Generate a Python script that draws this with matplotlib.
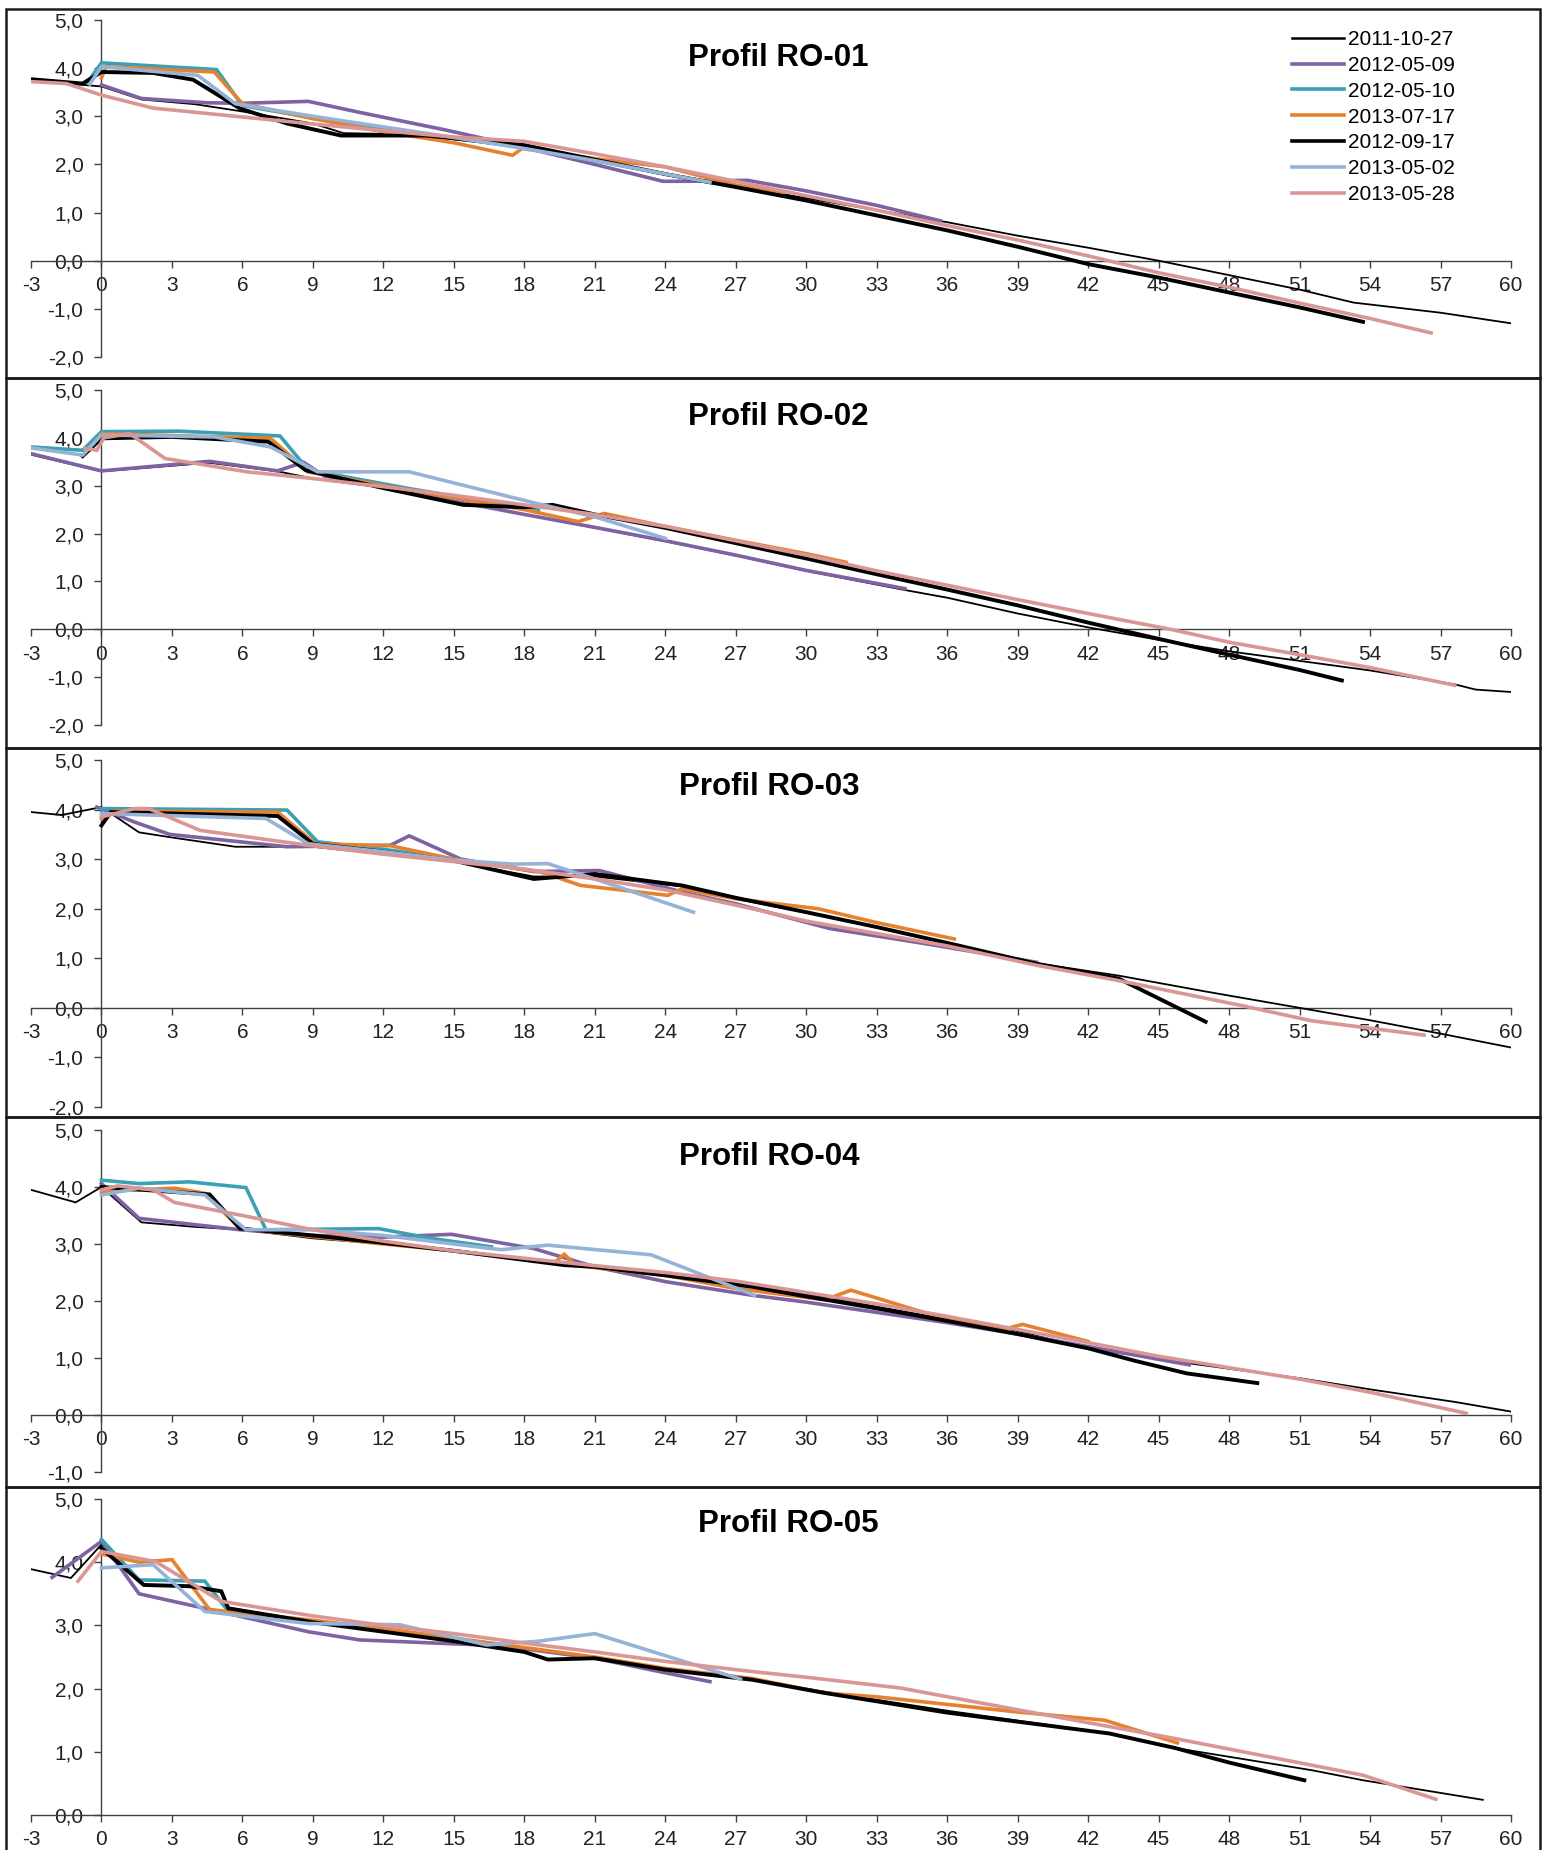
import matplotlib
matplotlib.use("Agg")
import matplotlib.pyplot as plt
from matplotlib.patches import Rectangle
from matplotlib.lines import Line2D

plt.rcParams['font.family'] = ['Liberation Sans', 'DejaVu Sans']

# =====================
# DATA  (distance [m] / height [m])
# =====================

series_labels = ["2011-10-27", "2012-05-09", "2012-05-10", "2013-07-17",
                 "2012-09-17", "2013-05-02", "2013-05-28"]
series_colors = ["#000000", "#7E62A1", "#3CA0B4", "#E5812F",
                 "#000000", "#95B3D7", "#D99694"]
series_widths = [1.3, 2.6, 2.6, 2.6, 2.8, 2.6, 2.6]

panel_titles = ["Profil RO-01", "Profil RO-02", "Profil RO-03", "Profil RO-04", "Profil RO-05"]
panel_ymin = [-2, -2, -2, -1, 0]

x_ticks = list(range(-3, 61, 3))

# ---- RO-01 ----
r1_111027_x = [-3, -1, 0, 1.7, 4, 6, 9, 10.3, 13.5, 15, 18, 21, 24, 27, 30, 33, 36, 39, 42, 45, 48, 51, 53.3, 57, 60]
r1_111027_y = [3.76, 3.66, 3.62, 3.35, 3.25, 3.1, 2.85, 2.65, 2.62, 2.52, 2.35, 2.08, 1.8, 1.55, 1.3, 1.05, 0.8, 0.52, 0.27, 0.0, -0.3, -0.6, -0.87, -1.08, -1.3]
r1_120509_x = [0, 1.7, 4.5, 6, 8.8, 11, 14.7, 18, 21, 23.9, 25, 27.5, 30, 33, 35.7]
r1_120509_y = [3.65, 3.37, 3.28, 3.27, 3.31, 3.08, 2.71, 2.35, 2.0, 1.65, 1.65, 1.67, 1.45, 1.15, 0.83]
r1_120510_x = [-0.6, 0, 4.9, 6.0, 9, 12, 15, 18, 21, 24, 26]
r1_120510_y = [3.7, 4.11, 3.97, 3.22, 2.97, 2.75, 2.55, 2.35, 2.08, 1.8, 1.62]
r1_130717_x = [0, 0.2, 4.8, 6.0, 9, 12, 15, 17.5, 17.9, 21, 24, 27, 29]
r1_130717_y = [3.8, 4.03, 3.92, 3.26, 2.95, 2.68, 2.45, 2.19, 2.33, 2.12, 1.95, 1.57, 1.42]
r1_120917_x = [-3, -0.8, 0, 2.2, 3.9, 5.9, 7.9, 10.2, 13.8, 18, 21, 24, 27, 30, 33, 36, 39, 42, 45, 48, 51, 53.7]
r1_120917_y = [3.77, 3.68, 3.92, 3.9, 3.76, 3.16, 2.85, 2.6, 2.6, 2.4, 2.1, 1.8, 1.53, 1.25, 0.94, 0.63, 0.29, -0.07, -0.35, -0.66, -0.97, -1.27]
r1_130502_x = [-0.5, 0, 4.1, 5.7, 9, 12, 15, 18, 21, 24, 25.9]
r1_130502_y = [3.67, 4.03, 3.85, 3.26, 3.0, 2.78, 2.56, 2.33, 2.08, 1.8, 1.63]
r1_130528_x = [-3, -1.5, 0, 2.2, 5.9, 8.8, 12, 15, 18, 21, 24, 27, 30, 33, 36, 39, 42, 45, 48, 51, 54, 56.6]
r1_130528_y = [3.72, 3.68, 3.44, 3.17, 2.99, 2.85, 2.7, 2.57, 2.48, 2.22, 1.95, 1.65, 1.35, 1.05, 0.73, 0.43, 0.1, -0.25, -0.55, -0.88, -1.2, -1.5]

# ---- RO-02 ----
r2_111027_x = [-3, 0, 4.6, 7.5, 9, 12, 15, 18, 21, 24, 27, 30, 34.2, 36, 39, 42, 45, 48, 51, 54, 57.6, 58.5, 60]
r2_111027_y = [3.65, 3.3, 3.48, 3.3, 3.15, 2.96, 2.67, 2.4, 2.12, 1.84, 1.54, 1.22, 0.82, 0.66, 0.33, 0.04, -0.22, -0.46, -0.66, -0.86, -1.15, -1.26, -1.31]
r2_120509_x = [-3, 0, 4.6, 7.5, 8.6, 9.5, 12, 15, 18, 21, 24, 27, 30, 34.2]
r2_120509_y = [3.67, 3.31, 3.51, 3.31, 3.49, 3.2, 2.98, 2.68, 2.4, 2.13, 1.85, 1.55, 1.23, 0.85]
r2_120510_x = [-3, -0.8, 0, 3.3, 7.6, 8.8, 13.1, 18.6]
r2_120510_y = [3.81, 3.74, 4.13, 4.14, 4.04, 3.33, 2.94, 2.49]
r2_130717_x = [-0.5, 0, 7.2, 8.8, 12, 15, 18, 20.3, 21.4, 24, 27, 30, 31.7]
r2_130717_y = [3.75, 4.09, 3.99, 3.29, 3.0, 2.75, 2.5, 2.25, 2.42, 2.15, 1.86, 1.58, 1.4]
r2_120917_x = [-0.8, 0, 3, 7.1, 8.7, 12, 15.4, 18, 19.2, 21, 24, 27, 30, 33, 36, 39, 42, 45, 48, 51, 52.8]
r2_120917_y = [3.62, 3.99, 4.02, 3.92, 3.32, 2.95, 2.6, 2.55, 2.6, 2.4, 2.12, 1.8, 1.48, 1.15, 0.83, 0.5, 0.14, -0.2, -0.53, -0.85, -1.07]
r2_130502_x = [-3, -0.8, 0, 4.8, 7.2, 9.2, 13.1, 18.6, 21, 24]
r2_130502_y = [3.79, 3.64, 4.06, 4.02, 3.81, 3.29, 3.29, 2.62, 2.35, 1.9]
r2_130528_x = [-0.7, -0.2, 0.1, 1.2, 2.7, 6.2, 9, 12, 15, 18, 21, 24, 27, 30, 33, 36, 39, 42, 45.5, 48, 51, 54, 57.6]
r2_130528_y = [3.78, 3.74, 4.0, 4.09, 3.57, 3.29, 3.15, 2.98, 2.8, 2.6, 2.4, 2.15, 1.85, 1.55, 1.22, 0.92, 0.62, 0.33, 0.0, -0.27, -0.53, -0.8, -1.17]

# ---- RO-03 ----
r3_111027_x = [-3, -1.7, 0, 1.6, 3.1, 5.7, 7.9, 9, 12, 15, 18.4, 21, 24.7, 27, 30, 33, 36, 39.8, 43.3, 47, 51, 54, 57, 60]
r3_111027_y = [3.95, 3.89, 4.05, 3.54, 3.43, 3.25, 3.25, 3.25, 3.1, 2.95, 2.65, 2.65, 2.45, 2.2, 1.92, 1.62, 1.3, 0.9, 0.65, 0.33, 0.0, -0.25, -0.52, -0.8]
r3_120509_x = [-0.2, 1.4, 2.9, 7.9, 12.3, 13.1, 15.3, 18.4, 21.2, 24.7, 27, 31, 35, 39.8]
r3_120509_y = [4.05, 3.75, 3.5, 3.25, 3.28, 3.47, 3.0, 2.75, 2.77, 2.34, 2.1, 1.6, 1.3, 0.92]
r3_120510_x = [0, 7.9, 9.2, 12.3, 15, 17.5]
r3_120510_y = [4.02, 3.99, 3.35, 3.18, 3.0, 2.85]
r3_130717_x = [0, 0.5, 7.5, 9.1, 12.3, 15, 18.7, 20.4, 24.1, 24.7, 27, 30.5, 33, 36.3]
r3_130717_y = [3.82, 3.97, 3.95, 3.31, 3.27, 3.0, 2.74, 2.47, 2.27, 2.4, 2.2, 2.0, 1.72, 1.39]
r3_120917_x = [0, 0.4, 7.5, 9.0, 12, 15, 18.4, 21, 24.7, 27, 30, 33, 36, 39.8, 43.3, 47]
r3_120917_y = [3.68, 3.95, 3.87, 3.31, 3.15, 2.97, 2.6, 2.7, 2.47, 2.22, 1.93, 1.63, 1.31, 0.89, 0.59, -0.28]
r3_130502_x = [0, 7.0, 8.8, 12, 15, 17.5, 19.0, 21, 25.2]
r3_130502_y = [3.92, 3.82, 3.31, 3.15, 2.98, 2.9, 2.91, 2.6, 1.93]
r3_130528_x = [0, 1.4, 2.0, 4.2, 8.8, 12, 15, 18, 21, 24, 27.7, 30, 33, 36, 39.8, 43.3, 48.5, 51.5, 56.3]
r3_130528_y = [3.85, 4.02, 4.02, 3.58, 3.28, 3.1, 2.95, 2.8, 2.6, 2.38, 2.0, 1.75, 1.5, 1.25, 0.86, 0.55, 0.05, -0.26, -0.55]

# ---- RO-04 ----
r4_111027_x = [-3, -1.1, 0, 1.7, 4, 6, 9, 12, 15, 18, 21, 24, 27.7, 30, 33, 36, 38.5, 42, 45.7, 51.1, 54, 57.6, 60]
r4_111027_y = [3.95, 3.73, 4.0, 3.38, 3.3, 3.25, 3.1, 3.0, 2.88, 2.75, 2.6, 2.45, 2.28, 2.12, 1.9, 1.68, 1.52, 1.17, 0.94, 0.64, 0.45, 0.23, 0.06]
r4_120509_x = [0, 1.6, 5.9, 9, 12, 14.9, 18.4, 21, 24, 27.7, 30, 33, 36, 39, 42, 46.3]
r4_120509_y = [4.06, 3.45, 3.25, 3.15, 3.12, 3.17, 2.92, 2.6, 2.34, 2.1, 1.98, 1.8, 1.62, 1.42, 1.2, 0.88]
r4_120510_x = [0, 1.6, 3.75, 6.15, 7.0, 11.8, 14, 16.6]
r4_120510_y = [4.12, 4.06, 4.09, 3.99, 3.25, 3.27, 3.1, 2.95]
r4_130717_x = [0, 3.1, 4.4, 5.9, 9, 12, 15, 18, 19.3, 19.7, 20.2, 24, 27, 30.8, 31.9, 35, 38.3, 39.2, 42]
r4_130717_y = [3.92, 3.98, 3.89, 3.27, 3.13, 3.0, 2.88, 2.73, 2.68, 2.82, 2.62, 2.45, 2.22, 2.02, 2.19, 1.8, 1.49, 1.59, 1.29]
r4_120917_x = [0, 4.6, 5.9, 9, 12, 15, 18, 19.7, 21, 24, 27.7, 30, 33, 36, 39, 42, 44, 46.2, 49.2]
r4_120917_y = [4.0, 3.87, 3.27, 3.15, 3.02, 2.88, 2.72, 2.63, 2.6, 2.45, 2.25, 2.08, 1.87, 1.65, 1.42, 1.17, 0.95, 0.73, 0.56]
r4_130502_x = [0, 1.6, 4.4, 6.15, 9, 12, 15, 17, 19, 23.4, 27.8]
r4_130502_y = [3.86, 3.98, 3.86, 3.25, 3.25, 3.15, 3.0, 2.9, 2.98, 2.81, 2.1]
r4_130528_x = [0, 0.7, 2.2, 3.1, 6, 9, 12, 15, 18, 21, 24, 27, 30, 33, 36, 39, 42, 45, 48, 51, 54, 58.1]
r4_130528_y = [3.95, 4.02, 3.95, 3.73, 3.5, 3.25, 3.05, 2.88, 2.75, 2.62, 2.5, 2.35, 2.15, 1.95, 1.73, 1.5, 1.27, 1.03, 0.83, 0.63, 0.4, 0.03]

# ---- RO-05 ----
r5_111027_x = [-3, -1.3, 0, 1.8, 3.75, 5.1, 5.4, 9, 12, 15, 18, 19, 21, 24, 27.7, 30.8, 36, 42.9, 45.7, 51.5, 53.7, 58.8]
r5_111027_y = [3.89, 3.75, 4.28, 3.64, 3.62, 3.54, 3.27, 3.05, 2.9, 2.75, 2.58, 2.46, 2.48, 2.3, 2.14, 1.95, 1.65, 1.29, 1.06, 0.71, 0.55, 0.24]
r5_120509_x = [-2.1, 0, 1.6, 4.4, 8.8, 11, 14.9, 17, 19, 21, 24, 25.9]
r5_120509_y = [3.76, 4.33, 3.5, 3.27, 2.9, 2.77, 2.71, 2.68, 2.58, 2.48, 2.25, 2.11]
r5_120510_x = [0, 1.6, 4.4, 5.3, 9, 12, 15, 17]
r5_120510_y = [4.36, 3.72, 3.7, 3.27, 3.05, 2.92, 2.78, 2.7]
r5_130717_x = [0, 1.6, 3.0, 4.6, 8.8, 12, 15, 18, 21, 24, 27.7, 30.8, 33, 36, 39, 42.7, 45.8]
r5_130717_y = [4.13, 4.0, 4.04, 3.25, 3.09, 2.95, 2.8, 2.65, 2.5, 2.32, 2.16, 1.93, 1.87, 1.75, 1.63, 1.5, 1.14]
r5_120917_x = [0, 1.8, 3.75, 5.1, 5.4, 9, 12, 15, 18, 19, 21, 24, 27.7, 30.8, 36, 42.9, 45.7, 48, 51.2]
r5_120917_y = [4.22, 3.64, 3.62, 3.54, 3.27, 3.05, 2.9, 2.75, 2.58, 2.46, 2.48, 2.3, 2.14, 1.93, 1.62, 1.29, 1.06, 0.83, 0.55]
r5_130502_x = [0, 2.2, 4.4, 8.8, 12.7, 16.4, 18.6, 21, 27.2]
r5_130502_y = [3.91, 3.96, 3.22, 3.03, 3.01, 2.69, 2.75, 2.87, 2.15]
r5_130528_x = [-1.0, 0, 2.3, 5.1, 9, 12, 15, 18, 21, 24, 27.7, 30, 34, 39.8, 45.7, 53.7, 56.8]
r5_130528_y = [3.7, 4.17, 4.01, 3.38, 3.15, 3.0, 2.87, 2.72, 2.58, 2.43, 2.27, 2.18, 2.01, 1.61, 1.21, 0.63, 0.25]

panels = [
    [(r1_111027_x, r1_111027_y), (r1_120509_x, r1_120509_y), (r1_120510_x, r1_120510_y),
     (r1_130717_x, r1_130717_y), (r1_120917_x, r1_120917_y), (r1_130502_x, r1_130502_y),
     (r1_130528_x, r1_130528_y)],
    [(r2_111027_x, r2_111027_y), (r2_120509_x, r2_120509_y), (r2_120510_x, r2_120510_y),
     (r2_130717_x, r2_130717_y), (r2_120917_x, r2_120917_y), (r2_130502_x, r2_130502_y),
     (r2_130528_x, r2_130528_y)],
    [(r3_111027_x, r3_111027_y), (r3_120509_x, r3_120509_y), (r3_120510_x, r3_120510_y),
     (r3_130717_x, r3_130717_y), (r3_120917_x, r3_120917_y), (r3_130502_x, r3_130502_y),
     (r3_130528_x, r3_130528_y)],
    [(r4_111027_x, r4_111027_y), (r4_120509_x, r4_120509_y), (r4_120510_x, r4_120510_y),
     (r4_130717_x, r4_130717_y), (r4_120917_x, r4_120917_y), (r4_130502_x, r4_130502_y),
     (r4_130528_x, r4_130528_y)],
    [(r5_111027_x, r5_111027_y), (r5_120509_x, r5_120509_y), (r5_120510_x, r5_120510_y),
     (r5_130717_x, r5_130717_y), (r5_120917_x, r5_120917_y), (r5_130502_x, r5_130502_y),
     (r5_130528_x, r5_130528_y)],
]

# =====================
# LAYOUT (pixels of a 1543 x 1850 canvas)
# =====================

W, H = 1543, 1850
frame_top = [9, 378, 748, 1117, 1487]
frame_bot = [378, 748, 1117, 1487, 1900]
ax_top = [20, 390, 760, 1130, 1499]      # y pixel of 5,0
ax_bot = [357, 725, 1107, 1472, 1815]    # y pixel of ymin
title_pos = [(778, 58), (778, 417), (769, 787), (769, 1157), (788, 1524)]
X_LEFT, X_RIGHT = 31, 1511

fig = plt.figure(figsize=(W / 100, H / 100), dpi=100)

for i in range(5):
    fig.add_artist(Rectangle((6 / W, 1 - frame_bot[i] / H), 1534 / W,
                             (frame_bot[i] - frame_top[i]) / H,
                             transform=fig.transFigure, fill=False,
                             lw=1.8, ec="#1a1a1a", zorder=0))

    ax = fig.add_axes([X_LEFT / W, 1 - ax_bot[i] / H,
                       (X_RIGHT - X_LEFT) / W, (ax_bot[i] - ax_top[i]) / H])
    ax.patch.set_alpha(0)

    for (xs, ys), c, lw in zip(panels[i], series_colors, series_widths):
        ax.plot(xs, ys, color=c, lw=lw, solid_joinstyle="miter", zorder=3)

    ax.set_xlim(-3, 60)
    ax.set_ylim(panel_ymin[i], 5)

    for s in ["top", "right"]:
        ax.spines[s].set_visible(False)
    ax.spines["left"].set_position(("data", 0))
    ax.spines["bottom"].set_position(("data", 0))
    for s in ["left", "bottom"]:
        ax.spines[s].set_color("#404040")
        ax.spines[s].set_linewidth(1.0)

    ax.set_xticks(x_ticks)
    ax.set_xticklabels([str(t) for t in x_ticks])
    yt = list(range(panel_ymin[i], 6))
    ax.set_yticks(yt)
    ax.set_yticklabels([f"{v:.1f}".replace(".", ",") for v in yt])
    ax.tick_params(axis="x", direction="out", length=5, width=1, pad=6,
                   labelsize=15, colors="#404040", labelcolor="#222222")
    ax.tick_params(axis="y", direction="out", length=5, width=1, pad=8,
                   labelsize=15, colors="#404040", labelcolor="#222222")

    fig.text(title_pos[i][0] / W, 1 - title_pos[i][1] / H, panel_titles[i],
             ha="center", va="center", fontsize=22.5, fontweight="bold")

    if i == 0:
        handles = [Line2D([], [], color=c, lw=(2.6 if k else 1.8))
                   for k, c in enumerate(series_colors)]
        ax.legend(handles, series_labels, loc="upper left",
                  bbox_to_anchor=(1292 / W, 1 - 30 / H), bbox_transform=fig.transFigure,
                  frameon=False, fontsize=15, handlelength=2.5, handletextpad=0.2,
                  labelspacing=0.33, borderpad=0, borderaxespad=0)

fig.savefig("out.png", dpi=100)
